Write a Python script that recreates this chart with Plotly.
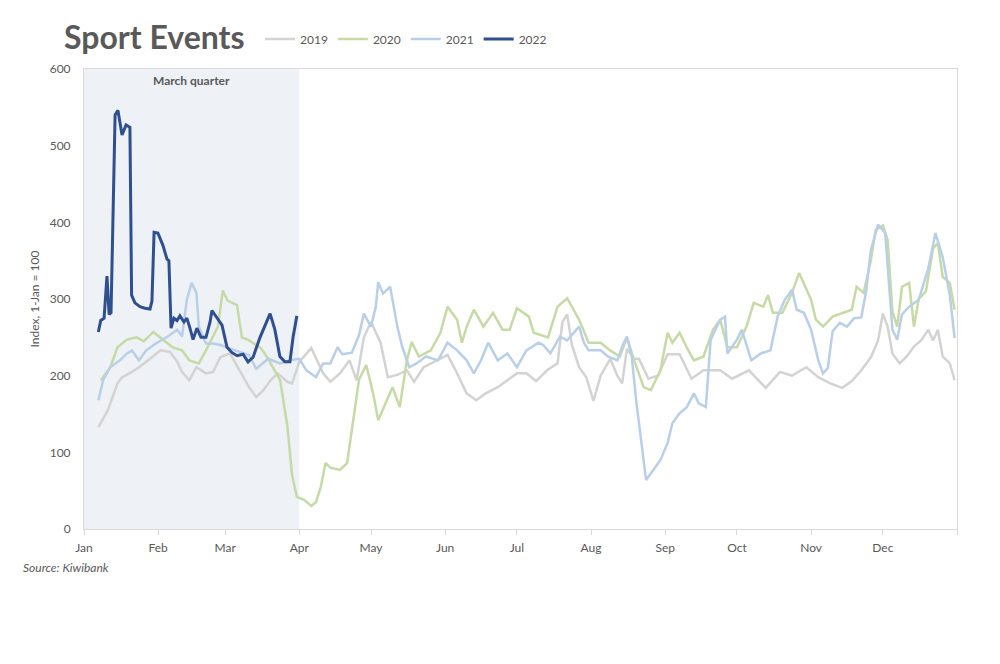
import plotly.graph_objects as go

# ---- data (day of year, index value; 1-Jan = 100) ----
days_2019 = [6, 10, 14, 16, 20, 23, 28, 32, 36, 39, 41, 44, 47, 51, 54, 57, 61, 65, 69, 72, 75, 78, 81, 85, 87,
             90, 95, 100, 103, 107, 111, 114, 117, 120, 124, 127, 131, 135, 138, 142, 148, 152, 156, 160, 164, 168,
             173, 177, 181, 185, 189, 194, 198, 200, 202, 204, 207, 210, 213, 216, 220, 223, 225, 227, 230, 232,
             236, 240, 244, 249, 254, 259, 266, 271, 278, 285, 291, 296, 302, 307, 312, 317, 321, 325, 329, 332,
             334, 336, 338, 341, 344, 347, 350, 353, 355, 357, 359, 362, 364]
vals_2019 = [133, 155, 190, 198, 205, 211, 223, 233, 231, 218, 205, 194, 211, 203, 205, 224, 229, 207, 185, 172, 181,
             194, 203, 192, 190, 218, 236, 203, 192, 203, 220, 194, 250, 270, 243, 198, 201, 207, 192, 211, 220, 227,
             203, 177, 168, 177, 185, 194, 203, 203, 193, 208, 216, 270, 280, 240, 211, 198, 167, 200, 222, 200, 190,
             235, 222, 222, 196, 200, 228, 228, 196, 207, 207, 196, 207, 184, 205, 200, 211, 198, 190, 184, 193, 207,
             224, 246, 281, 264, 229, 216, 225, 238, 246, 260, 246, 260, 225, 216, 194]

days_2020 = [7, 11, 14, 18, 22, 25, 29, 33, 37, 41, 44, 48, 51, 56, 58, 60, 64, 66, 69, 74, 77, 80, 82, 85, 87, 89,
             92, 95, 97, 99, 101, 103, 107, 110, 112, 115, 118, 121, 123, 127, 129, 132, 135, 137, 140, 145, 149,
             152, 156, 158, 160, 163, 167, 171, 175, 178, 181, 186, 188, 194, 198, 202, 207, 211, 216, 220, 224,
             227, 230, 234, 237, 241, 244, 246, 249, 252, 255, 259, 263, 266, 269, 273, 277, 280, 284, 286, 288,
             292, 296, 299, 304, 306, 309, 313, 317, 321, 323, 326, 329, 331, 334, 336, 338, 340, 342, 345, 347,
             349, 352, 355, 357, 359, 362, 364]
vals_2020 = [194, 211, 237, 247, 250, 245, 257, 247, 237, 233, 220, 216, 233, 264, 311, 298, 292, 250, 246, 236, 222,
             205, 194, 135, 70, 42, 38, 30, 35, 55, 86, 80, 77, 86, 129, 195, 214, 175, 142, 172, 185, 159, 220, 244,
             225, 233, 256, 290, 273, 243, 264, 286, 264, 282, 260, 260, 288, 277, 256, 250, 290, 301, 273, 243, 243,
             233, 225, 250, 220, 185, 181, 207, 256, 243, 256, 237, 220, 225, 260, 273, 237, 237, 264, 295, 290, 305,
             282, 282, 308, 334, 299, 273, 264, 277, 282, 286, 316, 308, 351, 390, 396, 377, 284, 264, 316, 321, 264,
             300, 310, 366, 373, 329, 321, 286]

days_2021 = [6, 8, 11, 15, 18, 20, 23, 26, 30, 35, 39, 41, 43, 45, 47, 48, 51, 54, 57, 61, 65, 69, 72, 77, 79, 82,
             86, 90, 93, 97, 100, 103, 106, 108, 112, 115, 117, 120, 122, 123, 125, 128, 131, 133, 136, 139, 143,
             148, 152, 156, 160, 163, 166, 169, 173, 177, 181, 185, 190, 192, 195, 199, 202, 205, 207, 209, 211,
             216, 219, 223, 225, 227, 229, 231, 233, 235, 238, 241, 244, 246, 249, 252, 255, 257, 260, 262, 266,
             268, 269, 273, 275, 279, 283, 287, 290, 293, 296, 298, 301, 304, 307, 309, 311, 313, 316, 319, 322,
             325, 327, 329, 332, 335, 338, 340, 342, 345, 349, 353, 356, 359, 362, 364]
vals_2021 = [168, 194, 211, 220, 229, 233, 220, 233, 242, 251, 260, 251, 299, 321, 308, 264, 242, 242, 240, 235, 231,
             227, 209, 222, 220, 216, 220, 222, 207, 198, 216, 216, 237, 228, 230, 253, 281, 264, 290, 322, 307, 316,
             264, 238, 211, 216, 225, 220, 243, 233, 220, 203, 220, 243, 220, 229, 211, 233, 243, 240, 229, 251, 246,
             256, 264, 243, 233, 233, 225, 220, 238, 251, 225, 164, 112, 64, 77, 90, 112, 138, 151, 159, 177, 164,
             159, 247, 273, 277, 229, 247, 260, 220, 229, 233, 277, 299, 312, 286, 282, 260, 220, 203, 210, 258, 269,
             264, 275, 276, 310, 364, 397, 386, 260, 247, 280, 290, 299, 340, 386, 355, 305, 249]

days_2022 = [6, 7, 8.4, 9.6, 10.5, 11.3, 13, 14.2, 15.9, 17.6, 19.2, 19.9, 21.3, 23.4, 25.5, 27.6, 28.4, 29.3, 30.9,
             33, 34.7, 35.5, 36.4, 37.6, 38.9, 40.1, 41.8, 43, 44.3, 45.6, 47.2, 48.9, 51, 52.7, 53.5, 55.6, 57.7,
             59.8, 61.9, 64, 66.5, 68.6, 70.7, 73.6, 75.7, 77.8, 79.8, 81.9, 84, 86.1, 87.4, 89]
vals_2022 = [257, 272, 275, 330, 280, 282, 540, 546, 514, 527, 524, 305, 295, 290, 288, 287, 297, 387, 386, 370, 352,
             350, 262, 275, 272, 278, 270, 275, 262, 247, 262, 250, 250, 270, 285, 275, 266, 237, 230, 226, 228, 218,
             224, 250, 265, 281, 260, 225, 218, 218, 250, 278]

month_starts = [0, 31, 59, 90, 120, 151, 181, 212, 243, 273, 304, 334, 365]
month_labels = ["Jan", "Feb", "Mar", "Apr", "May", "Jun", "Jul", "Aug", "Sep", "Oct", "Nov", "Dec", ""]
y_ticks = [0, 100, 200, 300, 400, 500, 600]

series = [
    ("2019", days_2019, vals_2019, "#d3d3d3", 2.5),
    ("2020", days_2020, vals_2020, "#c6daa6", 2.5),
    ("2021", days_2021, vals_2021, "#b9cfe8", 2.5),
    ("2022", days_2022, vals_2022, "#2f4f8f", 3),
]

FONT = "Lato"
GREY = "#595959"

OFF = 8  # page body margin
W, H = 1000 - OFF, 664 - OFF
# target plot area in screen pixels: x 84..957, y 69..529
L, T = 84 - OFF, 69 - OFF
R = W - (957 - OFF)
B = H - (529 - OFF)
pw, ph = W - L - R, H - T - B


def px(xs):
    return (xs - OFF - L) / pw


def py(ys):
    return 1 - (ys - OFF - T) / ph


fig = go.Figure()
for name, d, v, col, w in series:
    fig.add_trace(go.Scatter(x=d, y=v, mode="lines", name=name,
                             line=dict(color=col, width=w)))

fig.add_shape(type="rect", xref="x", yref="paper", x0=0, x1=90, y0=0, y1=1,
              fillcolor="#eef1f6", line=dict(width=0), layer="below")

fig.add_annotation(x=45, y=585, xref="x", yref="y", text="<b>March quarter</b>",
                   showarrow=False, font=dict(family=FONT, size=12, color=GREY))
fig.add_annotation(x=px(21), y=py(567), xref="paper", yref="paper", text="<i>Source: Kiwibank</i>",
                   showarrow=False, xanchor="left", yanchor="middle",
                   font=dict(family=FONT, size=12, color=GREY))
fig.add_annotation(x=px(62), y=py(37), xref="paper", yref="paper", text="<b>Sport Events</b>",
                   showarrow=False, xanchor="left", yanchor="middle",
                   font=dict(family=FONT, size=32, color=GREY))

fig.update_layout(
    width=W, height=H,
    margin=dict(l=L, r=R, t=T, b=B, autoexpand=False),
    plot_bgcolor="white", paper_bgcolor="white",
    font=dict(family=FONT, size=12, color=GREY),
    showlegend=True,
    legend=dict(orientation="h", x=px(260), y=py(39),
                xanchor="left", yanchor="middle", font=dict(size=12, color=GREY),
                itemwidth=30, tracegroupgap=0, bgcolor="rgba(0,0,0,0)"),
    xaxis=dict(range=[0, 365], tickmode="array", tickvals=month_starts, ticktext=month_labels,
               showline=True, linecolor="#d9d9d9", linewidth=1, mirror=True, automargin=False,
               ticks="outside", ticklen=5, tickcolor="#d9d9d9", showgrid=False, zeroline=False,
               ticklabelstandoff=3, tickfont=dict(size=12, color=GREY)),
    yaxis=dict(range=[0, 600], tickvals=y_ticks, showline=True, linecolor="#d9d9d9", linewidth=1,
               mirror=True, showgrid=False, zeroline=False, ticks="", automargin=False,
               ticklabelstandoff=10,
               title=dict(text="Index, 1-Jan = 100", font=dict(size=12, color=GREY), standoff=7),
               tickfont=dict(size=12, color=GREY)),
)

fig.write_html("out.html")
